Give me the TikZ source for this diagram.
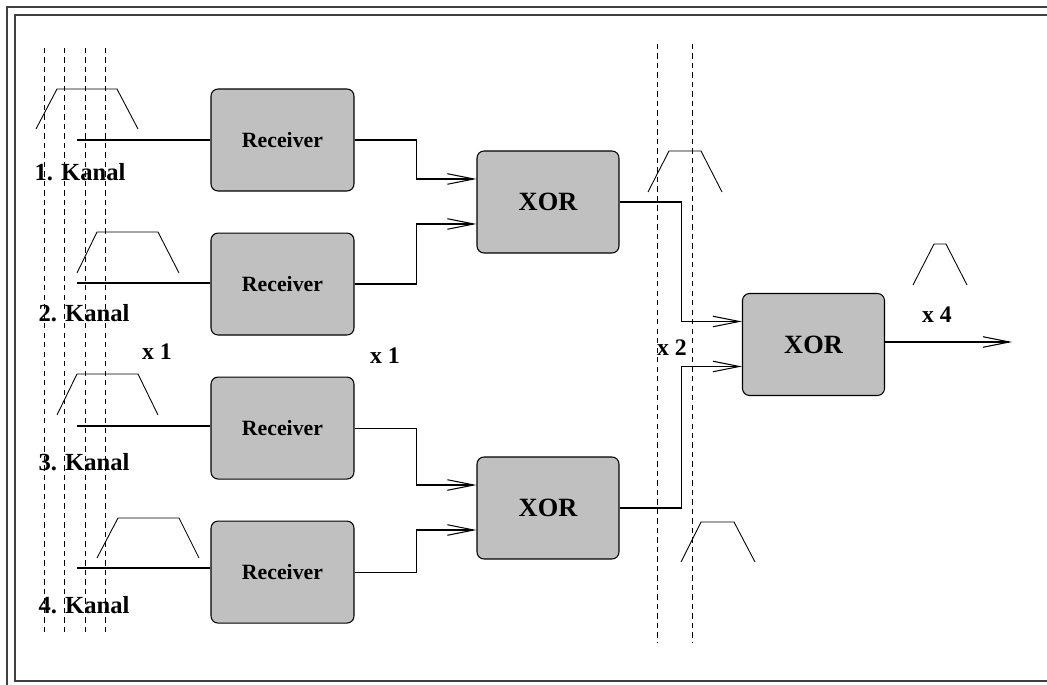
\documentclass[tikz,border=0pt]{standalone}
\usepackage{fontspec}
\setmainfont{Liberation Serif}
\usepackage{tikz}
\usetikzlibrary{
  arrows.meta,
  positioning,
  calc
}
\usepackage{xcolor}
\definecolor{boxgray}{HTML}{C0C0C0}
\definecolor{framegray}{HTML}{404040}
\tikzset{
  receiver/.style={
    rectangle, draw=black, fill=boxgray, rounded corners=4pt,
    minimum width=2.86cm, minimum height=2.04cm,
    font=\fontsize{12.4}{14}\selectfont\bfseries, text centered, line width=0.6pt
  },
  xorgate/.style={
    rectangle, draw=black, fill=boxgray, rounded corners=4pt,
    minimum width=2.84cm, minimum height=2.04cm,
    font=\fontsize{15}{17}\selectfont\bfseries, text centered, line width=0.6pt
  },
  kanal/.style={font=\fontsize{14}{16}\selectfont\bfseries, inner sep=0pt},
  rate/.style={font=\fontsize{13.5}{15}\selectfont\bfseries, inner sep=0pt},
  pulse/.style={line width=0.5pt},
  timing/.style={dash pattern=on 3pt off 2.4pt, line width=0.5pt},
  wire/.style={line width=0.6pt},
  arrow/.style={-{Straight Barb[length=15pt, width=6pt]}, line width=0.6pt},
}

\begin{document}
\begin{tikzpicture}[x=0.02cm, y=-0.02cm]
\useasboundingbox (0,0) rectangle (1047,685);
\clip (0,0) rectangle (1047,685);

% Frame
\draw[framegray, line width=1pt] (7,7) rectangle (1063,689);
\draw[framegray, line width=1pt] (15,15) rectangle (1055,681);

% Timing lines
\foreach \tx in {44,64,85,105}
  \draw[timing] (\tx,48) -- (\tx,635);
\foreach \tx in {657,692}
  \draw[timing] (\tx,44) -- (\tx,643);

% Receivers
\node[receiver] (rec1) at (282.5,140) {Receiver};
\node[receiver, below=0.82cm of rec1] (rec2) {Receiver};
\node[receiver, below=0.82cm of rec2] (rec3) {Receiver};
\node[receiver, below=0.82cm of rec3] (rec4) {Receiver};

% XOR gates
\node[xorgate] (xorA) at (548,202) {XOR};
\node[xorgate] (xorB) at (548,508) {XOR};
\node[xorgate] (xorC) at (813.5,344.5) {XOR};

% Channel inputs
\coordinate (k1) at (77,140);
\coordinate (k2) at (77,283);
\coordinate (k3) at (77,426);
\coordinate (k4) at (77,568);
\draw[wire] (k1) -- (k1 -| rec1.west);
\draw[wire] (k2) -- (k2 -| rec2.west);
\draw[wire] (k3) -- (k3 -| rec3.west);
\draw[wire] (k4) -- (k4 -| rec4.west);

\node[kanal] (lab1) at (80,172) {1. Kanal};
\node[kanal] (lab2) at (84,313) {2. Kanal};
\node[kanal] (lab3) at (84,462) {3. Kanal};
\node[kanal] (lab4) at (84,605) {4. Kanal};

% Pulses
\draw[pulse] (36,129) -- (57,89) -- (117,89) -- (138,129);
\draw[pulse] (77,273) -- (97,232) -- (158,232) -- (179,273);
\draw[pulse] (57,415) -- (77,374) -- (138,374) -- (158,415);
\draw[pulse] (97,558) -- (118,518) -- (179,518) -- (199,558);
\draw[pulse] (648,192) -- (669,151) -- (701,151) -- (722,192);
\draw[pulse] (681,562) -- (701,522) -- (734,522) -- (755,562);
\draw[pulse] (913,285) -- (934,244) -- (946,244) -- (967,285);

% Arrows
\draw[arrow] (rec1.east) -- ++(62,0) |- ($(xorA.west)+(0,-23)$);
\draw[arrow] (rec2.east) -- ++(62,0) |- ($(xorA.west)+(0,22)$);
\draw[arrow] (rec3.east) -- ++(62,0) |- ($(xorB.west)+(0,-23)$);
\draw[arrow] (rec4.east) -- ++(62,0) |- ($(xorB.west)+(0,22)$);
\draw[arrow] (xorA.east) -- ++(62,0) |- ($(xorC.west)+(0,-23)$);
\draw[arrow] (xorB.east) -- ++(62,0) |- ($(xorC.west)+(0,22)$);
\coordinate (out) at (1012,342);
\draw[arrow] (xorC.east |- out) -- (out);

% Rates
\node[rate] (r1) at (157,352) {x 1};
\node[rate] (r2) at (385,356) {x 1};
\node[rate] (r3) at (672,348) {x 2};
\node[rate] (r4) at (937,315) {x 4};

\end{tikzpicture}
\end{document}
